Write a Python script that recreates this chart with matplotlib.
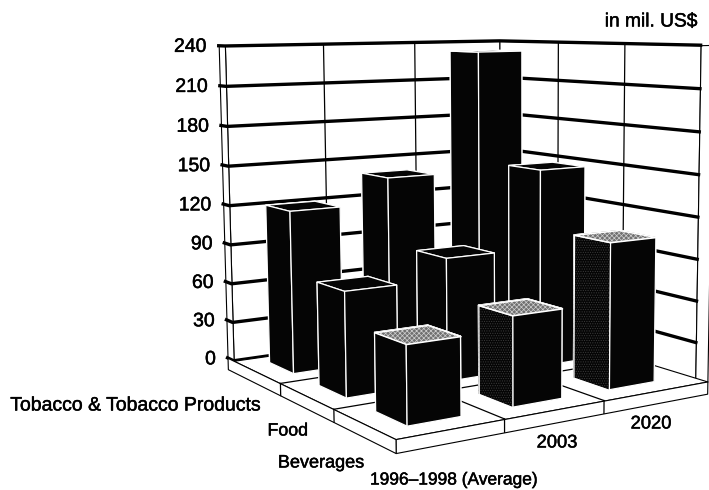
import matplotlib
matplotlib.use("Agg")
import matplotlib.pyplot as plt
import matplotlib.patheffects as pe
from mpl_toolkits.mplot3d import proj3d
from mpl_toolkits.mplot3d.art3d import Poly3DCollection

W, H = 709, 490
years = ["1996\u20131998 (Average)", "2003", "2020"]
products = ["Beverages", "Food", "Tobacco & Tobacco Products"]
beverages = [54, 63, 105]
food = [75, 90, 148]
tobacco = [121, 140, 233]
ticks = [0, 30, 60, 90, 120, 150, 180, 210, 240]
unit_label = "in mil. US$"

plt.rcParams["font.family"] = "Liberation Sans"
plt.rcParams["hatch.linewidth"] = 0.5

fig = plt.figure(figsize=(W / 100, H / 100), dpi=100)
ax = fig.add_axes([164.77 / W, -11.40 / H, 565.14 / W, 565.14 / H], projection="3d")
ax.set_xlim(0, 3, view_margin=0)
ax.set_ylim(0, 3, view_margin=0)
ax.set_zlim(0, 240, view_margin=0)
ax.set_xticks([])
ax.set_yticks([])
ax.set_zticks([])
ax.view_init(elev=7.7334, azim=-122.2202, roll=0.3819)
ax.set_proj_type("persp", focal_length=0.4757)
ax.set_box_aspect((1, 1.0079, 0.9733))
ax.set_axis_off()
ax.computed_zorder = False

wall = 0.14   # wall thickness in category units
base = 9.0    # depth of the floor plate in value units
clear = (0, 0, 0, 0)


def poly(v, fc="white", ec="black", lw=0.8, z=1, hatch=None):
    pc = Poly3DCollection([v], facecolors=fc, edgecolors=ec, linewidths=lw, zorder=z, hatch=hatch)
    ax.add_collection3d(pc)


# back walls with their grid
poly([(0, 3, 0), (3, 3, 0), (3, 3, 240), (0, 3, 240)])
poly([(3, 0, 0), (3, 3, 0), (3, 3, 240), (3, 0, 240)])
for i in (1, 2):
    ax.plot([i, i], [3, 3], [0, 240], color="k", lw=0.9, zorder=2)
    ax.plot([3, 3], [i, i], [0, 240], color="k", lw=0.9, zorder=2)
poly([(0, 3, 0), (0, 3 + wall, 0), (0, 3 + wall, 240), (0, 3, 240)], z=1.5)
poly([(3, 0, 0), (3 + wall, 0, 0), (3 + wall, 0, 240), (3, 0, 240)], z=1.5)
for v in ticks:
    ax.plot([0, 0, 3, 3, 3], [3 + wall, 3, 3, 0, 0], [v] * 5, color="k", lw=2.4, zorder=2)

# floor plate
poly([(0, 0, 0), (3 + wall, 0, 0), (3 + wall, 3, 0), (3, 3, 0), (0, 3, 0)], z=3)
poly([(0, 0, -base), (3 + wall, 0, -base), (3 + wall, 0, 0), (0, 0, 0)], z=3)
poly([(0, 0, -base), (0, 3 + wall, -base), (0, 3 + wall, 0), (0, 0, 0)], z=3)
for i in (1, 2):
    ax.plot([i, i], [0, 3], [0, 0], color="k", lw=0.9, zorder=4)
    ax.plot([0, 3], [i, i], [0, 0], color="k", lw=0.9, zorder=4)
    ax.plot([i, i], [0, 0], [0, -base], color="k", lw=0.9, zorder=4)
    ax.plot([0, 0], [i, i], [0, -base], color="k", lw=0.9, zorder=4)

# bars, painted from the far corner forwards
margin, width = 0.25, 0.5
series = [beverages, food, tobacco]
order = 10
for j in (2, 1, 0):
    for i in (2, 1, 0):
        x0, y0, v = i + margin, j + margin, series[j][i]
        x1, y1 = x0 + width, y0 + width
        ax.bar3d(x0, y0, 0, width, width, v, color="#050505", edgecolor="white",
                 linewidth=0.9, shade=False, zorder=order)
        if j == 0:
            # the nearest row carries a dotted screen
            poly([(x0, y0, v), (x1, y0, v), (x1, y1, v), (x0, y1, v)], fc="#707070",
                 ec="#cfcfcf", lw=0, z=order + 0.3, hatch="xxxxxxx")
            poly([(x0, y0, v), (x1, y0, v), (x1, y1, v), (x0, y1, v)], fc=clear,
                 ec="white", lw=1.1, z=order + 0.4)
            if i > 0:
                poly([(x0, y0, 0), (x0, y1, 0), (x0, y1, v), (x0, y0, v)], fc="#050505",
                     ec="#3a3a3a", lw=0, z=order + 0.3, hatch=".......")
                poly([(x0, y0, 0), (x0, y1, 0), (x0, y1, v), (x0, y0, v)], fc=clear,
                     ec="white", lw=0.9, z=order + 0.4)
        order += 1

ink = [pe.withStroke(linewidth=0.35, foreground="black")]


def label(xp, yp, s, size, ha="left"):
    fig.text(xp / W, 1 - yp / H, s, ha=ha, va="center", fontsize=size, color="k", path_effects=ink)


# value labels sit just off the free end of the left wall
ax.apply_aspect()
view = ax.get_proj()
for v in ticks:
    px, py, _ = proj3d.proj_transform(-0.1, 3.18, v, view)
    sx, sy = ax.transData.transform((px, py))
    label(sx, H - sy + 1.5, str(v), 14, "right")

label(262, 406, products[2], 14, "right")
label(308, 431, products[1], 12.8, "right")
label(364, 463, products[0], 13, "right")
label(370, 480, years[0], 12.5)
label(557, 443, years[1], 13.2, "center")
label(651, 424, years[2], 13.2, "center")
label(697, 22, unit_label, 13.8, "right")

fig.savefig("out.png", dpi=100)
